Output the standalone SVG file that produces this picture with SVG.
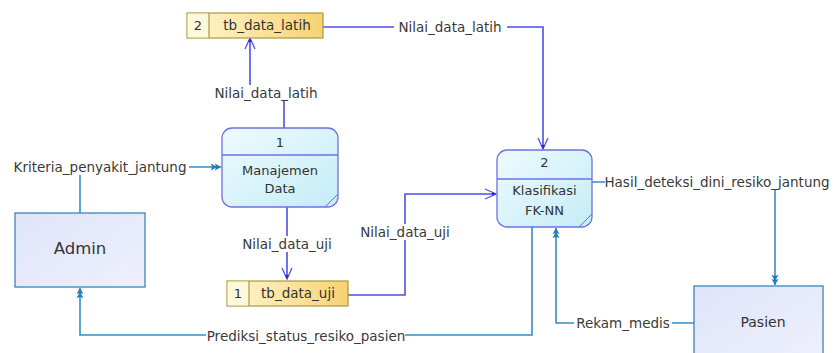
<svg xmlns="http://www.w3.org/2000/svg" width="837" height="353" viewBox="0 0 837 353">
<defs>
<linearGradient id="gProc" x1="0" y1="0" x2="1" y2="1"><stop offset="0" stop-color="#eefbfd"/><stop offset="1" stop-color="#c4ecf7"/></linearGradient>
<linearGradient id="gStore" x1="0" y1="0" x2="1" y2="0"><stop offset="0" stop-color="#fff6d2"/><stop offset="1" stop-color="#f7d272"/></linearGradient>
<linearGradient id="gEnt" x1="0" y1="0" x2="1" y2="1"><stop offset="0" stop-color="#dfe4fa"/><stop offset="1" stop-color="#eef0fc"/></linearGradient>
<marker id="aV" viewBox="-12 -7 14 14" refX="0" refY="0" markerWidth="14" markerHeight="14" markerUnits="userSpaceOnUse" orient="auto">
<path d="M-11,-5 L0,0 L-11,5" fill="none" stroke="#4f4fe6" stroke-width="1.3"/>
<path d="M0,0 L-4,-1.8 L-4,1.8 Z" fill="#2a2ad0"/>
</marker>
<marker id="aT" viewBox="-12 -7 14 14" refX="0" refY="0" markerWidth="14" markerHeight="14" markerUnits="userSpaceOnUse" orient="auto">
<path d="M0,0 L-6,-3.5 L-5,0 L-6,3.5 Z" fill="#1f7fb8"/>
<path d="M-4,0 L-10,-3.5 L-9,0 L-10,3.5 Z" fill="#1f7fb8"/>
</marker>
</defs>
<style>
.lbl{font-family:"DejaVu Sans",Verdana,sans-serif;font-size:13.5px;fill:#3a3a3a;text-anchor:middle}
.bg{fill:#ffffff}
.v{fill:none;stroke:#4f4fe6;stroke-width:1.6;marker-end:url(#aV)}
.t{fill:none;stroke:#3a8cc4;stroke-width:1.6;marker-end:url(#aT)}
.proc{fill:url(#gProc);stroke:#7070e0;stroke-width:1.3}
.store{fill:url(#gStore);stroke:#a89a3c;stroke-width:1.2}
.ent{fill:url(#gEnt);stroke:#3a84b8;stroke-width:1.3}
.txt{font-family:"DejaVu Sans",Verdana,sans-serif;font-size:13px;fill:#333;text-anchor:middle}
</style>
<g id="connectors">
<path class="v" d="M284 128 V93 H250 V38"/>
<path class="v" d="M323 27 H543 V149"/>
<path class="v" d="M287 207 V279"/>
<path class="v" d="M348 295 H405 V194 H496"/>
<path class="t" d="M80 213 V167 H221"/>
<path class="t" d="M532 227 V335 H80 V288"/>
<path class="t" d="M592 182 H775 V285"/>
<path class="t" d="M694 323 H556 V228"/>
<rect class="bg" x="210" y="85" width="112" height="16"/>
<rect class="bg" x="394" y="19" width="113" height="16"/>
<rect class="bg" x="237" y="236" width="100" height="16"/>
<rect class="bg" x="356" y="224" width="99" height="16"/>
<rect class="bg" x="11" y="159" width="178" height="16"/>
<rect class="bg" x="206" y="328" width="199" height="16"/>
<rect class="bg" x="605" y="174" width="224" height="16"/>
<rect class="bg" x="574" y="315" width="98" height="16"/>
<text class="lbl" x="266" y="98">Nilai_data_latih</text>
<text class="lbl" x="450" y="31.5">Nilai_data_latih</text>
<text class="lbl" x="287" y="248.5">Nilai_data_uji</text>
<text class="lbl" x="405" y="236.5">Nilai_data_uji</text>
<text class="lbl" x="100" y="171.5">Kriteria_penyakit_jantung</text>
<text class="lbl" x="306" y="340.5">Prediksi_status_resiko_pasien</text>
<text class="lbl" x="717" y="186.5">Hasil_deteksi_dini_resiko_jantung</text>
<text class="lbl" x="623" y="327.5">Rekam_medis</text>
</g>
<g id="store2">
<rect class="store" x="187" y="13" width="136" height="25"/>
<rect x="187.6" y="13.6" width="21.4" height="23.8" fill="#fff8dc"/>
<line x1="209" y1="13" x2="209" y2="38" stroke="#a89a3c" stroke-width="1.2"/>
<text class="txt" x="198" y="30">2</text>
<text class="txt" x="267" y="30" style="font-size:13.5px">tb_data_latih</text>
</g>
<g id="store1">
<rect class="store" x="227" y="281" width="121" height="25"/>
<rect x="227.6" y="281.6" width="21.4" height="23.8" fill="#fff8dc"/>
<line x1="249" y1="281" x2="249" y2="306" stroke="#a89a3c" stroke-width="1.2"/>
<text class="txt" x="238" y="298">1</text>
<text class="txt" x="298" y="298" style="font-size:13.5px">tb_data_uji</text>
</g>
<g id="proc1">
<rect class="proc" x="222" y="128" width="116" height="79" rx="10"/>
<line x1="222" y1="155" x2="338" y2="155" stroke="#7070e0" stroke-width="1.3"/>
<line x1="325" y1="207" x2="338" y2="194" stroke="#7070e0" stroke-width="1"/>
<text class="txt" x="280" y="146.5">1</text>
<text class="txt" x="280" y="175">Manajemen</text>
<text class="txt" x="280" y="193">Data</text>
</g>
<g id="proc2">
<rect class="proc" x="497" y="150" width="95" height="77" rx="10"/>
<line x1="497" y1="179" x2="592" y2="179" stroke="#7070e0" stroke-width="1.3"/>
<line x1="579" y1="227" x2="592" y2="214" stroke="#7070e0" stroke-width="1"/>
<text class="txt" x="544.5" y="167">2</text>
<text class="txt" x="544.5" y="195">Klasifikasi</text>
<text class="txt" x="544.5" y="215">FK-NN</text>
</g>
<g id="admin">
<rect class="ent" x="15" y="213" width="130" height="74"/>
<text class="txt" x="80" y="254" style="font-size:16.5px">Admin</text>
</g>
<g id="pasien">
<rect class="ent" x="694" y="286" width="129" height="80"/>
<text class="txt" x="763" y="327" style="font-size:14px">Pasien</text>
</g>
</svg>
